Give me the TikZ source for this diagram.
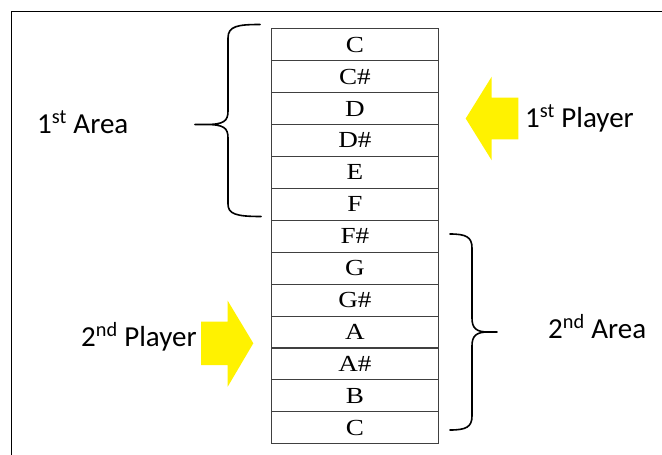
\documentclass[tikz,border=0pt]{standalone}
\usepackage{fontspec}
\setmainfont{Liberation Serif}
\newfontfamily\notefont[FakeStretch=1.18]{Liberation Serif}
\newfontfamily\labelfont{Carlito}
\begin{document}
\begin{tikzpicture}[x=1pt,y=-1pt,
  cell/.style={draw=black!75,line width=0.9pt,minimum width=167.4pt,minimum height=31.9pt,
    inner sep=0pt,anchor=north west,font=\notefont\fontsize{23}{26}\selectfont},
  bracepath/.style={line width=1.6pt,line cap=round,line join=round},
  lbl/.style={font=\labelfont\fontsize{29}{33}\selectfont,inner sep=0pt},
  yarrow/.style={fill=yellow,draw=none}]
\useasboundingbox (0,0) rectangle (662,455);
% outer frame, continues past the right and bottom edges
\draw[line width=1.6pt] (11.5,470) -- (11.5,11.5) -- (680,11.5);
% column of note cells
\foreach \t [count=\i from 0] in {C,C\#,D,D\#,E,F,F\#,G,G\#,A,A\#,B,C}
  \node[cell] (n\i) at (270.7,{28.3+31.92*\i}) {\t};
% first brace (left side)
\coordinate (b1top) at (260,24.5);
\coordinate (b1tip) at (195,124.5);
\coordinate (b1bot) at (261,216.5);
\draw[bracepath] (b1top) .. controls (238,24.5) and (228,26) .. (228,38)
  -- (228,111) .. controls (228,121) and (224,124.5) .. (206,124.5) -- (b1tip)
  -- (206,124.5) .. controls (224,124.5) and (228,128) .. (228,138)
  -- (228,204) .. controls (228,214) and (236,216.5) .. (b1bot);
% second brace (right side)
\coordinate (b2top) at (450,234);
\coordinate (b2tip) at (497,332);
\coordinate (b2bot) at (450,430);
\draw[bracepath] (b2top) .. controls (466,234) and (472,237) .. (472,248)
  -- (472,318) .. controls (472,328) and (476,332) .. (488,332) -- (b2tip)
  -- (488,332) .. controls (476,332) and (472,336) .. (472,346)
  -- (472,416) .. controls (472,427) and (466,430) .. (b2bot);
% labels
\node[lbl,anchor=base west] (a1) at (37,133) {1\textsuperscript{st} Area};
\node[lbl,anchor=base west] (a2) at (548,338) {2\textsuperscript{nd} Area};
\node[lbl,anchor=base west] (p1) at (525,127) {1\textsuperscript{st} Player};
\node[lbl,anchor=base west] (p2) at (81,346) {2\textsuperscript{nd} Player};
% player arrows
\fill[yarrow] (465.7,118.5) -- (491.7,76.7) -- (491.7,97.7) -- (518.3,97.7)
  -- (518.3,139.3) -- (491.7,139.3) -- (491.7,160.3) -- cycle;
\fill[yarrow] (253.3,343.3) -- (227.7,300.7) -- (227.7,321.7) -- (201,321.7)
  -- (201,365) -- (227.7,365) -- (227.7,386.7) -- cycle;
\end{tikzpicture}
\end{document}
